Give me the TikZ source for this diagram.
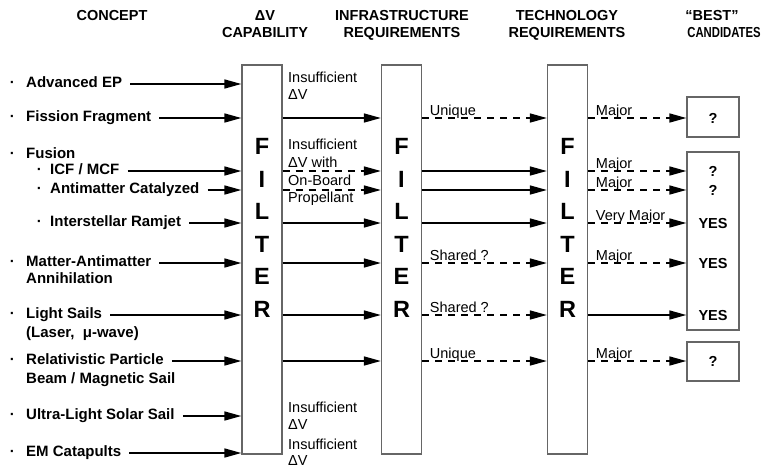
\documentclass[tikz,border=0pt]{standalone}
\usepackage{fontspec}
\setmainfont{Liberation Sans}
\usetikzlibrary{arrows.meta,positioning}
\tikzset{
	filter/.style={draw=black!60, line width=1.3pt, minimum width=40pt, minimum height=389pt, inner sep=0pt},
	letter/.style={font=\fontsize{23.5}{23.5}\selectfont\bfseries, inner sep=0pt},
	head/.style={font=\fontsize{14.5}{17}\selectfont\bfseries, align=center, anchor=north, inner sep=0pt},
	dot/.style={font=\fontsize{15}{18}\selectfont\bfseries, inner sep=0pt},
	conceptbase/.style={font=\fontsize{15}{18}\selectfont\bfseries, inner sep=0pt, text height=1.9ex, text depth=.5ex, anchor=west},
	concept/.style={conceptbase, label={[dot, xshift=-11pt]left:·}},
	subconcept/.style={conceptbase, label={[dot, xshift=-8pt]left:·}},
	conceptline/.style={font=\fontsize{15}{18}\selectfont\bfseries, inner sep=0pt, anchor=base west},
	note/.style={font=\fontsize{14.5}{16.5}\selectfont, inner sep=0pt, anchor=north west, align=left},
	tag/.style={font=\fontsize{14.5}{15}\selectfont, inner sep=0pt, pos=0, anchor=base west, xshift=7pt, yshift=3pt},
	flow/.style={line width=1.6pt, -{Triangle[length=17pt,width=9pt]}},
	dflow/.style={flow, dash pattern=on 7pt off 6pt},
	pick/.style={draw=black!60, line width=1.3pt, minimum width=52pt, inner sep=0pt},
	answer/.style={font=\fontsize{14.5}{14.5}\selectfont\bfseries, inner sep=0pt, text height=1.9ex, text depth=.5ex, yshift=-2pt}
}
\begin{document}
\begin{tikzpicture}[x=1pt, y=-1pt]
	\useasboundingbox (0,0) rectangle (765,469);

	\node[head] (hcon) at (112,10) {CONCEPT};
	\node[head] (hdv) at (265,10) {ΔV\\CAPABILITY};
	\node[head] (hinf) at (402,10) {INFRASTRUCTURE\\REQUIREMENTS};
	\node[head] (htec) at (567,10) {TECHNOLOGY\\REQUIREMENTS};
	\node[head] (hbest) at (712,10) {“BEST”};
	\node[head] (hcand) at (724,27) {\scalebox{0.78}[1]{CANDIDATES}};

	\node[filter] (f1) at (262,259.5) {};
	\node[filter] (f2) at (401.5,259.5) {};
	\node[filter] (f3) at (567.5,259.5) {};
	\foreach \f in {f1,f2,f3}
		\foreach \ch [count=\i] in {F,I,L,T,E,R}
			\node[letter] (\f\ch) at ([yshift={-82pt-32.6pt*(\i-1)}]\f.north) {\ch};

	\node[pick, minimum height=40pt] (best1) at (713,117) {};
	\node[pick, minimum height=178pt] (best2) at (713,241) {};
	\node[pick, minimum height=39pt] (best3) at (713,361.5) {};

	\node[concept] (aep) at (26,84) {Advanced EP};
	\node[concept] (fis) at (26,118) {Fission Fragment};
	\node[concept] (fus) at (26,155) {Fusion};
		\node[subconcept] (icf) at (50,171) {ICF / MCF};
		\node[subconcept] (amc) at (50,190) {Antimatter Catalyzed};
		\node[subconcept] (ram) at (50,223) {Interstellar Ramjet};
	\node[concept] (maa) at (26,263) {Matter-Antimatter};
		\node[conceptline] (maa2) at ([yshift=-17pt]maa.base west) {Annihilation};
	\node[concept] (sail) at (26,315) {Light Sails};
		\node[conceptline] (sail2) at ([yshift=-18.5pt]sail.base west) {(Laser,~~μ-wave)};
	\node[concept] (rpb) at (26,361) {Relativistic Particle};
		\node[conceptline] (rpb2) at ([yshift=-18.5pt]rpb.base west) {Beam / Magnetic Sail};
	\node[concept] (uls) at (26,416) {Ultra-Light Solar Sail};
	\node[concept] (emc) at (26,453) {EM Catapults};

	\foreach \c in {aep,fis,icf,amc,ram,maa,sail,rpb,uls,emc}
		\draw[flow, shorten <=8pt] (\c.east) -- (\c.east -| f1.west);

	\node[note] (dv1) at (288,72) {Insufficient\\ΔV};
	\node[note, font=\fontsize{14.5}{17.7}\selectfont] (dv2) at (288,139) {Insufficient\\ΔV with\\On-Board\\Propellant};
	\node[note] (dv3) at (288,402) {Insufficient\\ΔV};
	\node[note, font=\fontsize{14.5}{15.5}\selectfont] (dv4) at (288,439) {Insufficient\\ΔV};
	\foreach \c in {fis,ram,maa,sail,rpb}
		\draw[flow] (\c.east -| f1.east) -- (\c.east -| f2.west);
	\foreach \c in {icf,amc}
		\draw[dflow] (\c.east -| f1.east) -- (\c.east -| f2.west);

	\draw[dflow] (fis.east -| f2.east) -- node[tag] (t1) {Unique} (fis.east -| f3.west);
	\foreach \c in {icf,amc,ram}
		\draw[flow] (\c.east -| f2.east) -- (\c.east -| f3.west);
	\draw[dflow] (maa.east -| f2.east) -- node[tag] (t2) {Shared ?} (maa.east -| f3.west);
	\draw[dflow] (sail.east -| f2.east) -- node[tag] (t3) {Shared ?} (sail.east -| f3.west);
	\draw[dflow] (rpb.east -| f2.east) -- node[tag] (t4) {Unique} (rpb.east -| f3.west);

	\draw[dflow] (fis.east -| f3.east) -- node[tag] (m1) {Major} (fis.east -| best1.west);
	\draw[dflow] (icf.east -| f3.east) -- node[tag] (m2) {Major} (icf.east -| best2.west);
	\draw[dflow] (amc.east -| f3.east) -- node[tag] (m3) {Major} (amc.east -| best2.west);
	\draw[dflow] (ram.east -| f3.east) -- node[tag] (m4) {Very Major} (ram.east -| best2.west);
	\draw[dflow] (maa.east -| f3.east) -- node[tag] (m5) {Major} (maa.east -| best2.west);
	\draw[flow] (sail.east -| f3.east) -- (sail.east -| best2.west);
	\draw[dflow] (rpb.east -| f3.east) -- node[tag] (m6) {Major} (rpb.east -| best3.west);

	\node[answer] (a1) at (best1 |- fis.east) {?};
	\node[answer] (a2) at (best2 |- icf.east) {?};
	\node[answer] (a3) at (best2 |- amc.east) {?};
	\node[answer] (a4) at (best2 |- ram.east) {YES};
	\node[answer] (a5) at (best2 |- maa.east) {YES};
	\node[answer] (a6) at (best2 |- sail.east) {YES};
	\node[answer] (a7) at (best3 |- rpb.east) {?};
\end{tikzpicture}
\end{document}
